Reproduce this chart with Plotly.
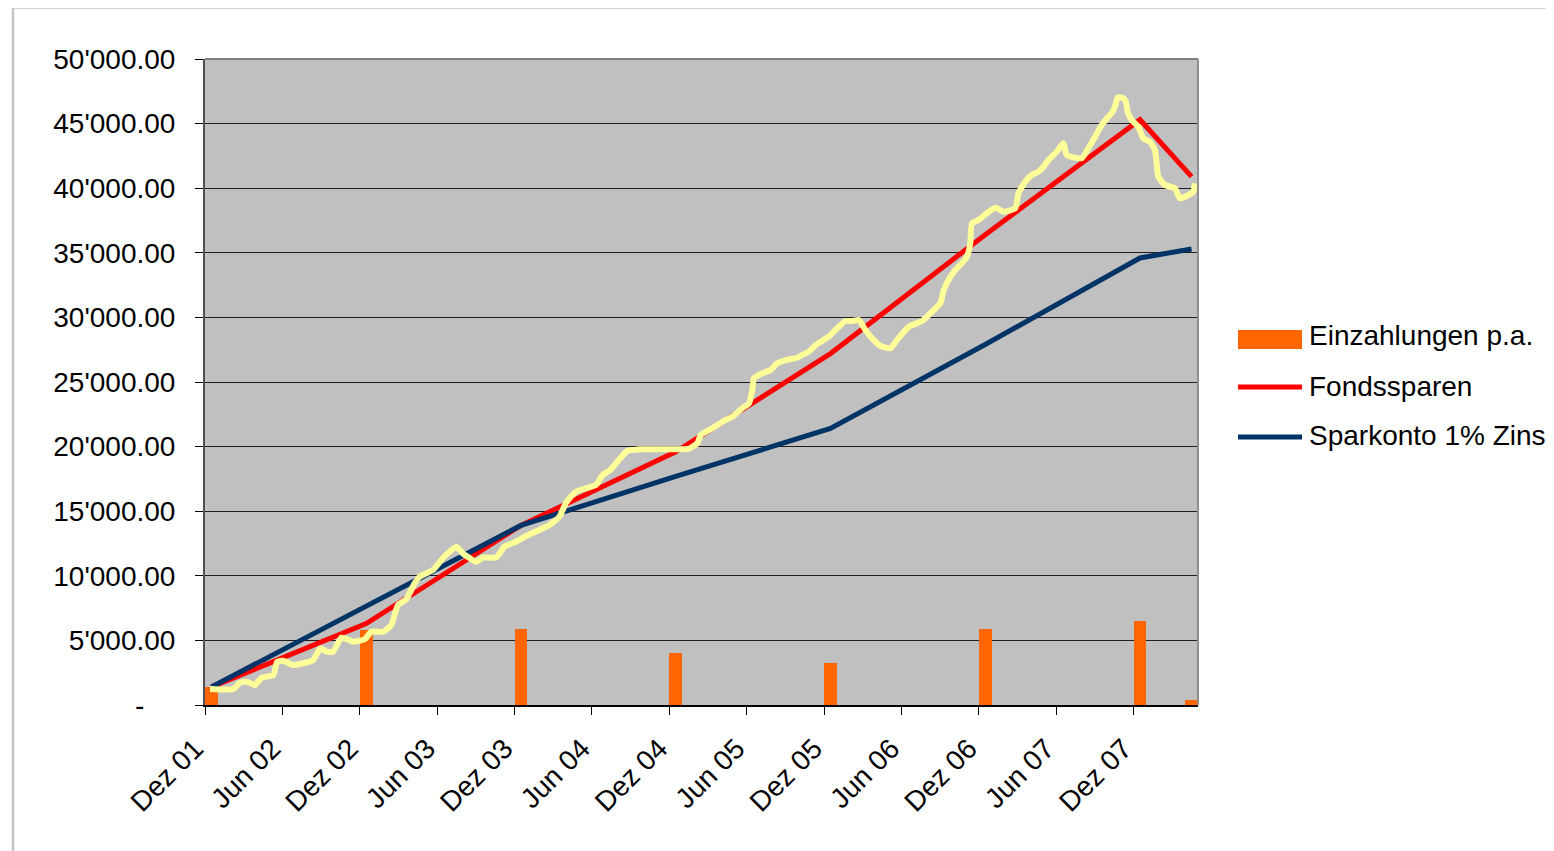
import plotly.graph_objects as go

# ---------------- data ----------------
# month index since start of Dez 01 (category index, 1 unit = 1 month)
year_end_months = [0, 12, 24, 36, 48, 60, 72, 76]
einzahlungen = [1400, 5800, 5900, 4050, 3270, 5880, 6500, 390]
fondssparen = [1400, 6300, 13900, 19600, 27200, 36400, 45300, 40900]
sparkonto = [1400, 7600, 13900, 17700, 21400, 27900, 34600, 35300]

series_names = ["Einzahlungen p.a.", "Fondssparen", "Sparkonto 1% Zins"]

tick_months = [0, 6, 12, 18, 24, 30, 36, 42, 48, 54, 60, 66, 72]
tick_labels = ["Dez 01", "Jun 02", "Dez 02", "Jun 03", "Dez 03", "Jun 04", "Dez 04",
               "Jun 05", "Dez 05", "Jun 06", "Dez 06", "Jun 07", "Dez 07"]

y_ticks = [0, 5000, 10000, 15000, 20000, 25000, 30000, 35000, 40000, 45000, 50000]
y_tick_labels = ["-\u2007\u2007", "5'000.00", "10'000.00", "15'000.00", "20'000.00", "25'000.00",
                 "30'000.00", "35'000.00", "40'000.00", "45'000.00", "50'000.00"]

# fund value path (time in months since start of Dez 01, value)
fund_t = [0.39, 2.19, 2.71, 3.23, 3.87, 4.39, 5.29, 5.60, 6.06, 6.83,
          7.61, 8.38, 8.96, 9.42, 9.93, 10.58, 11.48, 12.38, 12.90, 13.80,
          14.45, 14.96, 15.61, 16.25, 16.64, 17.67, 18.44, 18.83, 19.48, 19.99,
          21.03, 21.54, 22.58, 23.22, 24.13, 24.90, 25.93, 26.70, 27.48, 27.99,
          28.77, 30.32, 30.83, 31.42, 32.74, 33.67, 37.54, 38.18, 38.44, 39.34,
          40.38, 40.89, 41.66, 42.18, 42.44, 42.57, 43.21, 43.86, 44.37, 45.02,
          45.92, 46.31, 46.83, 47.35, 48.37, 49.02, 49.67, 50.18, 50.70, 51.21,
          51.73, 52.38, 53.15, 53.66, 54.57, 55.60, 56.37, 57.02, 57.28, 57.66,
          58.18, 58.69, 59.08, 59.34, 59.47, 59.98, 60.63, 61.28, 61.92, 62.83,
          63.08, 63.60, 64.11, 64.63, 65.02, 65.40, 66.05, 66.56, 66.82, 67.34,
          67.98, 68.50, 69.02, 69.53, 70.05, 70.30, 70.61, 70.77, 71.21, 71.40,
          71.55, 71.85, 72.37, 72.76, 73.27, 73.66, 73.79, 73.92, 74.43, 75.21,
          75.59, 76.10, 76.63, 76.76]
fund_v = [1240, 1240, 1730, 1800, 1550, 2110, 2320, 3350, 3430, 3100,
          3230, 3480, 4390, 4130, 4130, 5210, 4900, 5090, 5670, 5670,
          6190, 7740, 8180, 9420, 9930, 10450, 11360, 11740, 12250, 11740,
          11090, 11400, 11430, 12250, 12640, 13080, 13550, 13930, 14570, 15640,
          16510, 17030, 17800, 18190, 19660, 19790, 19850, 20260, 20900, 21420,
          22060, 22310, 22970, 23350, 24380, 25290, 25670, 25930, 26450, 26700,
          26880, 27090, 27350, 27860, 28510, 29160, 29720, 29720, 29800, 29030,
          28380, 27790, 27610, 28250, 29280, 29720, 30440, 31090, 32120, 32900,
          33670, 34190, 34700, 35740, 37280, 37540, 38060, 38490, 38180, 38450,
          39610, 40500, 41020, 41280, 41660, 42180, 42830, 43480, 42570, 42390,
          42320, 43090, 43990, 44890, 45530, 45800, 46440, 47040, 46960, 46700,
          45900, 45280, 44760, 43860, 43600, 42960, 41930, 40890, 40250, 39990,
          39220, 39400, 39730, 40380]

# ---------------- styling ----------------
OFF = 8  # page body margin of the html page
W, H = 1554 - OFF, 851 - OFF
L, T = 205 - OFF, 59 - OFF
PW, PH = 993, 646
R, B = W - L - PW, H - T - PH
FONT = "Liberation Sans, Arial, sans-serif"
FS = 28
ORANGE = "#FF6600"
RED = "#FF0000"
NAVY = "#003366"
YELLOW = "#FFFF99"

x_mid = [m + 0.5 for m in year_end_months]

fig = go.Figure()
fig.add_trace(go.Bar(x=x_mid, y=einzahlungen, width=1.0, name=series_names[0],
                     marker=dict(color=ORANGE, line=dict(width=0)), showlegend=False))
fig.add_trace(go.Scatter(x=x_mid, y=fondssparen, mode="lines", name=series_names[1],
                         line=dict(color=RED, width=5), showlegend=False))
fig.add_trace(go.Scatter(x=x_mid, y=sparkonto, mode="lines", name=series_names[2],
                         line=dict(color=NAVY, width=5), showlegend=False))
fig.add_trace(go.Scatter(x=fund_t, y=fund_v, mode="lines", name="Fonds",
                         line=dict(color=YELLOW, width=6, shape="spline", smoothing=0.5),
                         showlegend=False))


def px_x(p):
    # p: pixel in the screenshot
    return (p - OFF - L) / PW


def px_y(p):
    return (T + PH - (p - OFF)) / PH


shapes = [
    # outer chart border
    dict(type="rect", xref="paper", yref="paper", x0=px_x(13), x1=px_x(1575),
         y0=px_y(880), y1=px_y(7.5), line=dict(color="#C4C4C4", width=2.5)),
    # top and right plot border
    dict(type="line", xref="paper", yref="paper", x0=0, x1=1, y0=1, y1=1,
         line=dict(color="#808080", width=2)),
    dict(type="line", xref="paper", yref="paper", x0=1, x1=1, y0=0, y1=1,
         line=dict(color="#909090", width=2)),
    # legend symbols
    dict(type="rect", xref="paper", yref="paper", x0=px_x(1238), x1=px_x(1302),
         y0=px_y(349), y1=px_y(330), fillcolor=ORANGE, line=dict(width=0)),
    dict(type="line", xref="paper", yref="paper", x0=px_x(1238), x1=px_x(1302),
         y0=px_y(387), y1=px_y(387), line=dict(color=RED, width=5)),
    dict(type="line", xref="paper", yref="paper", x0=px_x(1238), x1=px_x(1302),
         y0=px_y(437), y1=px_y(437), line=dict(color=NAVY, width=5)),
]

annotations = []
for name, ypix in zip(series_names, [336, 386, 435]):
    annotations.append(dict(xref="paper", yref="paper", x=px_x(1307), y=px_y(ypix),
                            xanchor="left", yanchor="middle", text=name, showarrow=False,
                            font=dict(family=FONT, size=FS, color="black")))

fig.update_layout(
    width=W, height=H, autosize=False,
    margin=dict(l=L, r=R, t=T, b=B, pad=0),
    paper_bgcolor="white", plot_bgcolor="#C0C0C0",
    font=dict(family=FONT, size=FS, color="black"),
    bargap=0, showlegend=False,
    shapes=shapes, annotations=annotations,
)
fig.update_xaxes(
    range=[0, 77], tickmode="array", tickvals=tick_months, ticktext=tick_labels,
    tickangle=-45, ticks="outside", ticklen=8, tickwidth=1, tickcolor="black",
    showgrid=False, zeroline=False, showline=True, linecolor="black", linewidth=2,
    ticklabelshift=-10, ticklabelstandoff=6,
    tickfont=dict(family=FONT, size=FS, color="black"),
)
fig.update_yaxes(
    range=[0, 50000], tickmode="array", tickvals=y_ticks, ticktext=y_tick_labels,
    ticks="outside", ticklen=8, tickwidth=1, tickcolor="black",
    showgrid=True, gridcolor="#1E1E1E", gridwidth=1, zeroline=False,
    showline=True, linecolor="#505050", linewidth=2, ticklabelstandoff=14,
    tickfont=dict(family=FONT, size=FS, color="black"),
)

fig.write_html("out.html")
